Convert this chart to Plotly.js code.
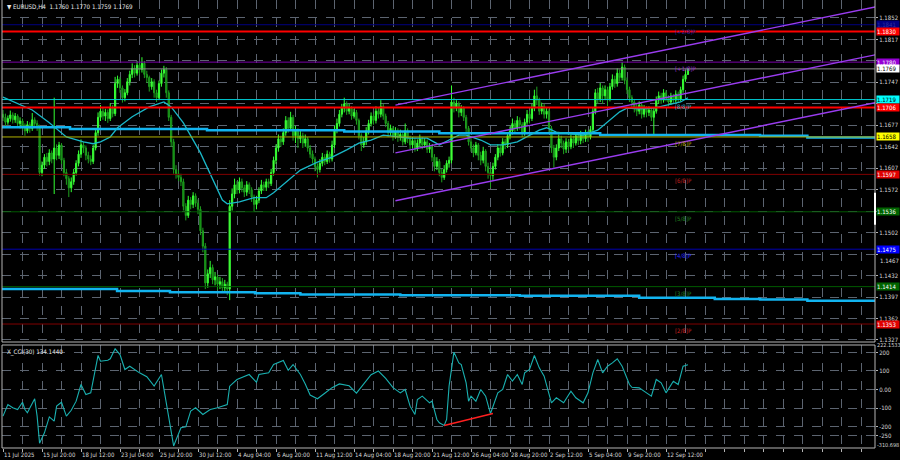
<!DOCTYPE html>
<html><head><meta charset="utf-8">
<script src="https://cdn.plot.ly/plotly-3.0.1.min.js"></script>
<style>html,body{margin:0;padding:0;background:#000;overflow:hidden}#chart{width:900px;height:460px}</style>
</head><body><div id="chart"></div>
<script>
const opens=[1.1695,1.1690,1.1682,1.1688,1.1694,1.1686,1.1692,1.1680,1.1684,1.1676,
1.1668,1.1678,1.1672,1.1686,1.1680,1.1675,1.1600,1.1612,1.1625,1.1618,
1.1632,1.1622,1.1640,1.1628,1.1645,1.1620,1.1600,1.1590,1.1575,1.1585,
1.1600,1.1615,1.1630,1.1645,1.1640,1.1628,1.1622,1.1618,1.1640,1.1665,
1.1690,1.1700,1.1692,1.1698,1.1688,1.1705,1.1696,1.1745,1.1752,1.1738,
1.1722,1.1730,1.1748,1.1760,1.1770,1.1762,1.1775,1.1768,1.1778,1.1760,
1.1755,1.1740,1.1748,1.1730,1.1722,1.1745,1.1762,1.1768,1.1730,1.1690,
1.1650,1.1605,1.1598,1.1592,1.1585,1.1545,1.1530,1.1555,1.1548,1.1562,
1.1550,1.1540,1.1505,1.1480,1.1420,1.1435,1.1445,1.1425,1.1430,1.1418,
1.1422,1.1412,1.1418,1.1410,1.1545,1.1565,1.1580,1.1572,1.1585,1.1575,
1.1568,1.1580,1.1572,1.1560,1.1548,1.1555,1.1570,1.1580,1.1576,1.1585,
1.1582,1.1600,1.1620,1.1640,1.1655,1.1650,1.1665,1.1685,1.1672,1.1690,
1.1660,1.1668,1.1655,1.1660,1.1648,1.1655,1.1640,1.1630,1.1622,1.1610,
1.1605,1.1615,1.1625,1.1618,1.1630,1.1622,1.1645,1.1670,1.1680,1.1695,
1.1705,1.1712,1.1700,1.1705,1.1692,1.1698,1.1685,1.1660,1.1645,1.1650,
1.1668,1.1680,1.1692,1.1685,1.1700,1.1695,1.1708,1.1692,1.1680,1.1665,
1.1672,1.1660,1.1668,1.1658,1.1662,1.1650,1.1668,1.1655,1.1645,1.1652,
1.1640,1.1648,1.1655,1.1645,1.1650,1.1638,1.1642,1.1625,1.1610,1.1618,
1.1600,1.1592,1.1605,1.1615,1.1620,1.1715,1.1705,1.1712,1.1698,1.1705,
1.1690,1.1672,1.1650,1.1640,1.1632,1.1645,1.1628,1.1620,1.1635,1.1610,
1.1600,1.1595,1.1610,1.1625,1.1640,1.1632,1.1650,1.1645,1.1660,1.1668,
1.1680,1.1672,1.1685,1.1678,1.1665,1.1682,1.1695,1.1688,1.1705,1.1725,
1.1718,1.1700,1.1708,1.1695,1.1700,1.1672,1.1640,1.1625,1.1640,1.1655,
1.1648,1.1638,1.1650,1.1642,1.1655,1.1648,1.1660,1.1652,1.1662,1.1655,
1.1665,1.1658,1.1670,1.1700,1.1730,1.1720,1.1738,1.1725,1.1735,1.1720,
1.1740,1.1752,1.1745,1.1762,1.1755,1.1772,1.1750,1.1735,1.1722,1.1715,
1.1705,1.1700,1.1710,1.1695,1.1705,1.1698,1.1702,1.1690,1.1700,1.1718,
1.1725,1.1718,1.1730,1.1722,1.1715,1.1725,1.1718,1.1728,1.1720,1.1735,
1.1752,1.1760];
const highs=[1.1702,1.1696,1.1693,1.1701,1.1698,1.1697,1.1695,1.1690,1.1688,1.1680,
1.1684,1.1682,1.1697,1.1690,1.1685,1.1678,1.1618,1.1630,1.1632,1.1638,
1.1636,1.1722,1.1646,1.1650,1.1648,1.1624,1.1606,1.1594,1.1592,1.1606,
1.1620,1.1636,1.1654,1.1650,1.1644,1.1634,1.1628,1.1645,1.1670,1.1698,
1.1710,1.1706,1.1704,1.1703,1.1713,1.1710,1.1756,1.1758,1.1756,1.1742,
1.1736,1.1754,1.1766,1.1778,1.1775,1.1782,1.1779,1.1788,1.1782,1.1766,
1.1758,1.1754,1.1752,1.1735,1.1750,1.1768,1.1774,1.1772,1.1734,1.1694,
1.1655,1.1612,1.1604,1.1598,1.1590,1.1550,1.1562,1.1560,1.1568,1.1566,
1.1556,1.1545,1.1510,1.1485,1.1442,1.1456,1.1450,1.1438,1.1434,1.1430,
1.1428,1.1425,1.1422,1.1555,1.1574,1.1590,1.1586,1.1592,1.1590,1.1580,
1.1586,1.1584,1.1576,1.1564,1.1562,1.1576,1.1588,1.1585,1.1590,1.1590,
1.1606,1.1626,1.1646,1.1662,1.1660,1.1672,1.1692,1.1690,1.1699,1.1694,
1.1676,1.1672,1.1668,1.1665,1.1662,1.1658,1.1645,1.1636,1.1626,1.1615,
1.1622,1.1632,1.1630,1.1636,1.1634,1.1652,1.1676,1.1688,1.1702,1.1712,
1.1722,1.1716,1.1712,1.1708,1.1704,1.1702,1.1688,1.1664,1.1658,1.1674,
1.1686,1.1698,1.1696,1.1708,1.1705,1.1718,1.1712,1.1696,1.1684,1.1678,
1.1676,1.1674,1.1672,1.1670,1.1666,1.1680,1.1672,1.1660,1.1658,1.1656,
1.1654,1.1662,1.1658,1.1656,1.1654,1.1648,1.1646,1.1630,1.1625,1.1622,
1.1606,1.1612,1.1620,1.1626,1.1742,1.1722,1.1718,1.1716,1.1710,1.1708,
1.1694,1.1676,1.1656,1.1646,1.1650,1.1648,1.1634,1.1642,1.1638,1.1616,
1.1606,1.1616,1.1630,1.1646,1.1645,1.1656,1.1655,1.1666,1.1675,1.1688,
1.1685,1.1692,1.1690,1.1682,1.1688,1.1702,1.1700,1.1712,1.1735,1.1740,
1.1722,1.1714,1.1712,1.1706,1.1704,1.1676,1.1645,1.1646,1.1662,1.1660,
1.1652,1.1656,1.1655,1.1662,1.1660,1.1666,1.1664,1.1668,1.1666,1.1670,
1.1668,1.1676,1.1706,1.1736,1.1738,1.1746,1.1742,1.1742,1.1740,1.1746,
1.1760,1.1758,1.1770,1.1768,1.1780,1.1776,1.1755,1.1740,1.1726,1.1720,
1.1712,1.1716,1.1714,1.1710,1.1708,1.1708,1.1706,1.1705,1.1724,1.1732,
1.1730,1.1736,1.1734,1.1726,1.1730,1.1728,1.1734,1.1732,1.1740,1.1758,
1.1768,1.1770];
const lows=[1.1684,1.1676,1.1678,1.1683,1.1680,1.1681,1.1674,1.1672,1.1669,1.1660,
1.1664,1.1665,1.1668,1.1674,1.1668,1.1595,1.1594,1.1606,1.1610,1.1612,
1.1615,1.1565,1.1620,1.1622,1.1614,1.1594,1.1580,1.1560,1.1568,1.1580,
1.1595,1.1610,1.1624,1.1632,1.1620,1.1615,1.1612,1.1614,1.1636,1.1660,
1.1684,1.1686,1.1684,1.1681,1.1684,1.1690,1.1692,1.1738,1.1730,1.1714,
1.1716,1.1726,1.1742,1.1754,1.1755,1.1758,1.1760,1.1763,1.1754,1.1746,
1.1732,1.1735,1.1722,1.1715,1.1718,1.1740,1.1755,1.1722,1.1684,1.1642,
1.1598,1.1590,1.1586,1.1578,1.1538,1.1522,1.1526,1.1540,1.1542,1.1544,
1.1532,1.1498,1.1470,1.1410,1.1412,1.1428,1.1418,1.1416,1.1408,1.1410,
1.1404,1.1405,1.1400,1.1392,1.1538,1.1558,1.1565,1.1566,1.1568,1.1560,
1.1562,1.1565,1.1552,1.1536,1.1540,1.1550,1.1565,1.1570,1.1570,1.1575,
1.1578,1.1595,1.1614,1.1634,1.1642,1.1645,1.1660,1.1665,1.1668,1.1652,
1.1648,1.1640,1.1648,1.1640,1.1642,1.1634,1.1624,1.1615,1.1602,1.1592,
1.1600,1.1610,1.1612,1.1614,1.1616,1.1618,1.1640,1.1664,1.1675,1.1690,
1.1698,1.1694,1.1695,1.1686,1.1688,1.1678,1.1654,1.1635,1.1640,1.1645,
1.1662,1.1675,1.1678,1.1680,1.1688,1.1690,1.1686,1.1674,1.1658,1.1660,
1.1652,1.1655,1.1650,1.1652,1.1644,1.1646,1.1648,1.1638,1.1640,1.1634,
1.1635,1.1642,1.1638,1.1640,1.1632,1.1632,1.1618,1.1602,1.1604,1.1594,
1.1584,1.1588,1.1600,1.1608,1.1615,1.1698,1.1700,1.1690,1.1692,1.1684,
1.1665,1.1644,1.1634,1.1625,1.1628,1.1620,1.1612,1.1615,1.1602,1.1590,
1.1575,1.1588,1.1605,1.1620,1.1626,1.1628,1.1638,1.1640,1.1654,1.1662,
1.1666,1.1668,1.1670,1.1658,1.1660,1.1678,1.1680,1.1684,1.1700,1.1710,
1.1694,1.1695,1.1688,1.1688,1.1665,1.1632,1.1608,1.1620,1.1635,1.1640,
1.1630,1.1632,1.1636,1.1638,1.1640,1.1644,1.1645,1.1646,1.1648,1.1650,
1.1650,1.1654,1.1665,1.1695,1.1712,1.1715,1.1712,1.1718,1.1708,1.1716,
1.1735,1.1738,1.1740,1.1748,1.1750,1.1744,1.1728,1.1715,1.1706,1.1698,
1.1692,1.1695,1.1688,1.1690,1.1690,1.1692,1.1684,1.1661,1.1696,1.1712,
1.1712,1.1714,1.1716,1.1708,1.1710,1.1712,1.1714,1.1714,1.1716,1.1730,
1.1748,1.1759];
const closes=[1.1690,1.1682,1.1688,1.1694,1.1686,1.1692,1.1680,1.1684,1.1676,1.1668,
1.1678,1.1672,1.1686,1.1680,1.1675,1.1600,1.1612,1.1625,1.1618,1.1632,
1.1622,1.1640,1.1628,1.1645,1.1620,1.1600,1.1590,1.1575,1.1585,1.1600,
1.1615,1.1630,1.1645,1.1640,1.1628,1.1622,1.1618,1.1640,1.1665,1.1690,
1.1700,1.1692,1.1698,1.1688,1.1705,1.1696,1.1745,1.1752,1.1738,1.1722,
1.1730,1.1748,1.1760,1.1770,1.1762,1.1775,1.1768,1.1778,1.1760,1.1755,
1.1740,1.1748,1.1730,1.1722,1.1745,1.1762,1.1768,1.1730,1.1690,1.1650,
1.1605,1.1598,1.1592,1.1585,1.1545,1.1530,1.1555,1.1548,1.1562,1.1550,
1.1540,1.1505,1.1480,1.1420,1.1435,1.1445,1.1425,1.1430,1.1418,1.1422,
1.1412,1.1418,1.1410,1.1545,1.1565,1.1580,1.1572,1.1585,1.1575,1.1568,
1.1580,1.1572,1.1560,1.1548,1.1555,1.1570,1.1580,1.1576,1.1585,1.1582,
1.1600,1.1620,1.1640,1.1655,1.1650,1.1665,1.1685,1.1672,1.1690,1.1660,
1.1668,1.1655,1.1660,1.1648,1.1655,1.1640,1.1630,1.1622,1.1610,1.1605,
1.1615,1.1625,1.1618,1.1630,1.1622,1.1645,1.1670,1.1680,1.1695,1.1705,
1.1712,1.1700,1.1705,1.1692,1.1698,1.1685,1.1660,1.1645,1.1650,1.1668,
1.1680,1.1692,1.1685,1.1700,1.1695,1.1708,1.1692,1.1680,1.1665,1.1672,
1.1660,1.1668,1.1658,1.1662,1.1650,1.1668,1.1655,1.1645,1.1652,1.1640,
1.1648,1.1655,1.1645,1.1650,1.1638,1.1642,1.1625,1.1610,1.1618,1.1600,
1.1592,1.1605,1.1615,1.1620,1.1715,1.1705,1.1712,1.1698,1.1705,1.1690,
1.1672,1.1650,1.1640,1.1632,1.1645,1.1628,1.1620,1.1635,1.1610,1.1600,
1.1595,1.1610,1.1625,1.1640,1.1632,1.1650,1.1645,1.1660,1.1668,1.1680,
1.1672,1.1685,1.1678,1.1665,1.1682,1.1695,1.1688,1.1705,1.1725,1.1718,
1.1700,1.1708,1.1695,1.1700,1.1672,1.1640,1.1625,1.1640,1.1655,1.1648,
1.1638,1.1650,1.1642,1.1655,1.1648,1.1660,1.1652,1.1662,1.1655,1.1665,
1.1658,1.1670,1.1700,1.1730,1.1720,1.1738,1.1725,1.1735,1.1720,1.1740,
1.1752,1.1745,1.1762,1.1755,1.1772,1.1750,1.1735,1.1722,1.1715,1.1705,
1.1700,1.1710,1.1695,1.1705,1.1698,1.1702,1.1690,1.1700,1.1718,1.1725,
1.1718,1.1730,1.1722,1.1715,1.1725,1.1718,1.1728,1.1720,1.1735,1.1752,
1.1760,1.1769];

const timeLabels=["11 Jul 2025","15 Jul 20:00","18 Jul 12:00","23 Jul 04:00","25 Jul 20:00","30 Jul 12:00","4 Aug 04:00","6 Aug 20:00","11 Aug 12:00","14 Aug 04:00","18 Aug 20:00","21 Aug 12:00","26 Aug 04:00","28 Aug 20:00","2 Sep 12:00","5 Sep 04:00","9 Sep 20:00","12 Sep 12:00"];
const timeLabelBars=[0,16,32,48,64,80,96,112,128,144,160,176,192,208,224,240,256,272];

const maBars=[0,3,12,19,26,33,37,40,44,47,53,60,66,69,74,81,86,90,92,97,103,108,111,117,122,129,135,141,146,151,156,162,167,174,179,183,187,190,196,200,205,211,215,220,223,227,231,238,244,249,253,256,261,267,272,278,281];
const maValues=[1.1723,1.1718,1.1702,1.1681,1.1658,1.1650,1.1647,1.1650,1.1658,1.1673,1.1691,1.1707,1.1715,1.1707,1.1681,1.1632,1.1588,1.1555,1.1549,1.1552,1.1559,1.1559,1.1567,1.1588,1.1604,1.1617,1.1625,1.1637,1.1648,1.1653,1.1661,1.1658,1.1656,1.1656,1.1645,1.1653,1.1661,1.1661,1.1653,1.1645,1.1645,1.1650,1.1658,1.1669,1.1673,1.1666,1.1664,1.1661,1.1669,1.1686,1.1699,1.1705,1.1704,1.1705,1.1710,1.1715,1.1722];

const slowUpperBars=[-1,27.5,83.7,140,179,245,310.6,330,358];
const slowUpperValues=[1.1674,1.1671,1.1669,1.1667,1.1664,1.1661,1.1660,1.1657,1.1657];
const slowLowerBars=[-1,46.8,68.5,103.4,122,163,212,261,292,310.6,330,358];
const slowLowerValues=[1.1410,1.1407,1.1405,1.1403,1.1401,1.1400,1.1399,1.1396,1.1394,1.1393,1.1391,1.1391];

const cciBars=[0,1,2,4,6,8,9,10,13,14,15,17,19,21,22,24,26,28,30,32,34,36,39,40,43,44,46,48,50,52,56,59,62,65,66,70,73,75,77,79,82,85,88,92,93,96,101,104,105,109,111,115,117,119,122,124,126,129,132,135,138,142,145,148,151,154,157,160,163,165,167,169,170,172,175,176,178,179,181,182,183,185,187,188,190,191,192,194,196,198,200,203,205,207,209,211,213,214,216,218,220,222,225,227,230,233,235,238,240,242,244,246,248,250,252,254,257,258,261,264,266,268,270,272,275,277,279,281];
const cciValues=[-144,-117,-81,-99,-108,-69,-108,-126,-50,-144,-290,-234,-148,-171,-90,-69,-144,-112,-63,27,-27,-18,184,153,158,166,220,189,108,126,90,69,18,81,0,-305,-207,-202,-117,-99,-135,-108,-99,-81,18,54,81,39,81,90,135,157,104,135,81,30,-30,-50,-20,10,30,20,-20,30,80,100,60,10,-18,0,-90,-135,-54,-36,-72,-63,-162,-180,-195,-162,18,202,144,135,36,-63,-36,-63,0,-36,-130,-18,0,81,45,81,27,90,108,184,117,72,-72,-45,-72,-9,-45,-72,-18,90,162,90,126,144,166,126,27,12,9,-18,-36,54,36,-18,45,27,126,134];

const priceGrid=[1.1852,1.1817,1.1782,1.1747,1.1712,1.1677,1.1642,1.1607,1.1572,1.1537,1.1502,1.1467,1.1432,1.1397,1.1362,1.1327];
// grid labels that sit under a level box in the reference are blank; 1.1467 is drawn just below its box
const priceGridText=["1.1852","1.1817","","1.1747","","1.1677","1.1642","1.1607","1.1572","","1.1502","","1.1432","1.1397","1.1362","1.1327"];
const shiftedGridLabel=1.1467;
const murrayLevels=[1.1841,1.1780,1.1719,1.1658,1.1597,1.1536,1.1475,1.1414,1.1353];
const murrayNames=["[+2/8]P","[+1/8]P","[8/8]P","[7/8]P","[6/8]P","[5/8]P","[4/8]P","[3/8]P","[2/8]P"];
const murrayPriceText=["1.1841","1.1780","1.1719","1.1658","1.1597","1.1536","1.1475","1.1414","1.1353"];
const resistanceLevels=[1.1830,1.1706];
const resistanceText=["1.1830","1.1706"];
const currentPrice=1.1769;
const cciLevels=[200,100,0,-100,-200,-250];
const cciLevelText=["200","100","0.00","-100","-200","-250"];
const cciMax=222.1533, cciMin=-310.698;
const channelBars=[161,358];
const channelMid=[1.1632,1.1792];
const channelHalfWidth=0.0078;
const divergenceBars=[181,201];
const divergenceValues=[-195,-130];
const scrollMark=[1.1567,1.1515];
const header="▼ EURUSD,H4  1.1760 1.1770 1.1759 1.1769";
const cciHeader="X_CCI(30) 134.1440";

// styling
const FONT="Liberation Sans Narrow, DejaVu Sans Condensed, Liberation Sans, Arial, sans-serif";
const murrayLine=['#000080','#7a00a8','#00c8d0','#b0b000','#800000','#005a00','#0000b0','#005a00','#800000'];
const murrayText=['#2020a0','#9a30d0','#20b0c0','#b0a000','#c02020','#208020','#2828ff','#208020','#d02020'];
const murrayBox=['#000080','#9400d3','#00ffff','#ffff00','#e00000','#006400','#0000ff','#006400','#e00000'];
const murrayBoxFont=['#3030a0','#ffffff','#000000','#000000','#ffffff','#ffffff','#ffffff','#ffffff','#ffffff'];

const bars=opens.map((_,i)=>i);
const gridBars=[]; for(let b=0;b<=352;b+=8) gridBars.push(b);
const xRange=[-0.41,357.74];
const mainDom=[0.2366,1], cciDom=[0,0.2299];
const yRange=[1.13237,1.18813];
const y2Range=[-316.2,240.5];

const traces=[
 {type:'scatter',mode:'lines',x:slowUpperBars,y:slowUpperValues,xaxis:'x',yaxis:'y',line:{color:'#12b4f0',width:2.5,shape:'hv'},hoverinfo:'skip'},
 {type:'scatter',mode:'lines',x:slowLowerBars,y:slowLowerValues,xaxis:'x',yaxis:'y',line:{color:'#12b4f0',width:2.5,shape:'hv'},hoverinfo:'skip'},
 {type:'candlestick',x:bars,open:opens,high:highs,low:lows,close:closes,xaxis:'x',yaxis:'y',
  increasing:{line:{color:'#33ff33',width:1},fillcolor:'#66ff44'},
  decreasing:{line:{color:'#1fa01f',width:1},fillcolor:'#0a7a0a'},whiskerwidth:0,hoverinfo:'skip'},
 {type:'scatter',mode:'lines',x:maBars,y:maValues,xaxis:'x',yaxis:'y',line:{color:'#1ab8c8',width:1.3},hoverinfo:'skip'},
 {type:'scatter',mode:'lines',x:cciBars,y:cciValues,xaxis:'x2',yaxis:'y2',line:{color:'#1ab0b0',width:1.1},hoverinfo:'skip'},
 {type:'scatter',mode:'lines',x:divergenceBars,y:divergenceValues,xaxis:'x2',yaxis:'y2',line:{color:'#ff2020',width:1.5},hoverinfo:'skip'}
];

const shapes=[];
const annotations=[];
const boxStyle=(y,txt,bg,fg)=>({xref:'paper',yref:'y',x:1,y:y,text:txt,showarrow:false,xanchor:'left',yanchor:'middle',xshift:1,bgcolor:bg,width:22,height:7,borderpad:0,align:'left',font:{family:FONT,size:6,color:fg}});
murrayLevels.forEach((v,k)=>{
  shapes.push({type:'line',xref:'paper',x0:0,x1:1,yref:'y',y0:v,y1:v,line:{color:murrayLine[k],width:1},layer:'above'});
  annotations.push({xref:'x',yref:'y',x:275,y:v,text:murrayNames[k],showarrow:false,xanchor:'left',yanchor:'top',yshift:-1,font:{family:FONT,size:6,color:murrayText[k]}});
  annotations.push(boxStyle(v,murrayPriceText[k],murrayBox[k],murrayBoxFont[k]));
});
resistanceLevels.forEach((v,k)=>{
  shapes.push({type:'line',xref:'paper',x0:0,x1:1,yref:'y',y0:v,y1:v,line:{color:'#ff0000',width:2},layer:'above'});
  annotations.push(boxStyle(v,resistanceText[k],'#ff0000','#ffffff'));
});
shapes.push({type:'line',xref:'paper',x0:0,x1:1,yref:'y',y0:currentPrice,y1:currentPrice,line:{color:'#8c8c8c',width:1},layer:'above'});
annotations.push(boxStyle(currentPrice,currentPrice.toFixed(4),'#ffffff','#000000'));
annotations.push({xref:'paper',yref:'y',x:1,y:shiftedGridLabel,text:shiftedGridLabel.toFixed(4),showarrow:false,xanchor:'left',yanchor:'top',xshift:3,yshift:-0.5,font:{family:FONT,size:6,color:'#d8d8d8'}});
[-1,0,1].forEach(s=>{
  shapes.push({type:'line',xref:'x',yref:'y',x0:channelBars[0],x1:channelBars[1],y0:channelMid[0]+s*channelHalfWidth,y1:channelMid[1]+s*channelHalfWidth,line:{color:'#9a3cf0',width:1.4},layer:'above'});
});
shapes.push({type:'rect',xref:'paper',yref:'paper',x0:0,x1:1,y0:mainDom[0],y1:1.01,line:{color:'#b4b4b4',width:1},fillcolor:'rgba(0,0,0,0)',layer:'above'});
shapes.push({type:'rect',xref:'paper',yref:'paper',x0:0,x1:1,y0:cciDom[0],y1:cciDom[1],line:{color:'#b4b4b4',width:1},fillcolor:'rgba(0,0,0,0)',layer:'above'});
shapes.push({type:'line',xref:'paper',yref:'y',x0:1,x1:1,y0:scrollMark[0],y1:scrollMark[1],line:{color:'#ffffff',width:2},layer:'above'});
timeLabels.forEach((t,k)=>{
  annotations.push({xref:'x',yref:'paper',x:timeLabelBars[k],y:0,text:t,showarrow:false,xanchor:'left',yanchor:'top',yshift:-1,xshift:-1,font:{family:FONT,size:6,color:'#d8d8d8'}});
});
annotations.push({xref:'paper',yref:'paper',x:0,y:1,text:header,showarrow:false,xanchor:'left',yanchor:'top',xshift:3,yshift:-1,font:{family:FONT,size:6.2,color:'#e8e8e8'}});
annotations.push({xref:'paper',yref:'paper',x:0,y:cciDom[1],text:cciHeader,showarrow:false,xanchor:'left',yanchor:'top',xshift:3,yshift:-1,font:{family:FONT,size:6.2,color:'#e8e8e8'}});
annotations.push({xref:'paper',yref:'paper',x:1,y:cciDom[1],text:cciMax.toFixed(4),showarrow:false,xanchor:'left',yanchor:'middle',xshift:0,yshift:0.5,font:{family:FONT,size:5.5,color:'#d8d8d8'}});
annotations.push({xref:'paper',yref:'y2',x:1,y:cciMin,text:cciMin.toFixed(3),showarrow:false,xanchor:'left',yanchor:'middle',xshift:0,yshift:2,font:{family:FONT,size:5.5,color:'#d8d8d8'}});

const gridCol='#5c6470';
const layout={
 width:900,height:460,paper_bgcolor:'#000',plot_bgcolor:'#000',showlegend:false,
 margin:{l:2,r:25,t:0,b:12},
 font:{family:FONT,size:6,color:'#d8d8d8'},
 xaxis:{domain:[0,1],range:xRange,anchor:'y',tickmode:'array',tickvals:gridBars,showticklabels:false,ticks:'',showgrid:true,gridcolor:gridCol,griddash:'dash',gridwidth:1,zeroline:false,showline:false,rangeslider:{visible:false},fixedrange:true},
 yaxis:{domain:mainDom,range:yRange,side:'right',anchor:'x',tickmode:'array',tickvals:priceGrid,ticktext:priceGridText,ticks:'outside',ticklen:2,tickcolor:'#b4b4b4',showgrid:true,gridcolor:gridCol,griddash:'dash',zeroline:false,showline:false,tickfont:{family:FONT,size:6,color:'#d8d8d8'},automargin:false},
 xaxis2:{domain:[0,1],range:xRange,anchor:'y2',matches:'x',tickmode:'array',tickvals:gridBars,showticklabels:false,ticks:'outside',ticklen:3,tickcolor:'#b4b4b4',showgrid:true,gridcolor:gridCol,griddash:'dash',zeroline:false,showline:false,rangeslider:{visible:false}},
 yaxis2:{domain:cciDom,range:y2Range,side:'right',anchor:'x2',tickmode:'array',tickvals:cciLevels,ticktext:cciLevelText,ticks:'outside',ticklen:2,tickcolor:'#b4b4b4',showgrid:true,gridcolor:gridCol,griddash:'dash',zeroline:false,showline:false,tickfont:{family:FONT,size:6,color:'#d8d8d8'},automargin:false},
 shapes:shapes,annotations:annotations
};
Plotly.newPlot('chart',traces,layout,{staticPlot:true,displayModeBar:false});
</script></body></html>
